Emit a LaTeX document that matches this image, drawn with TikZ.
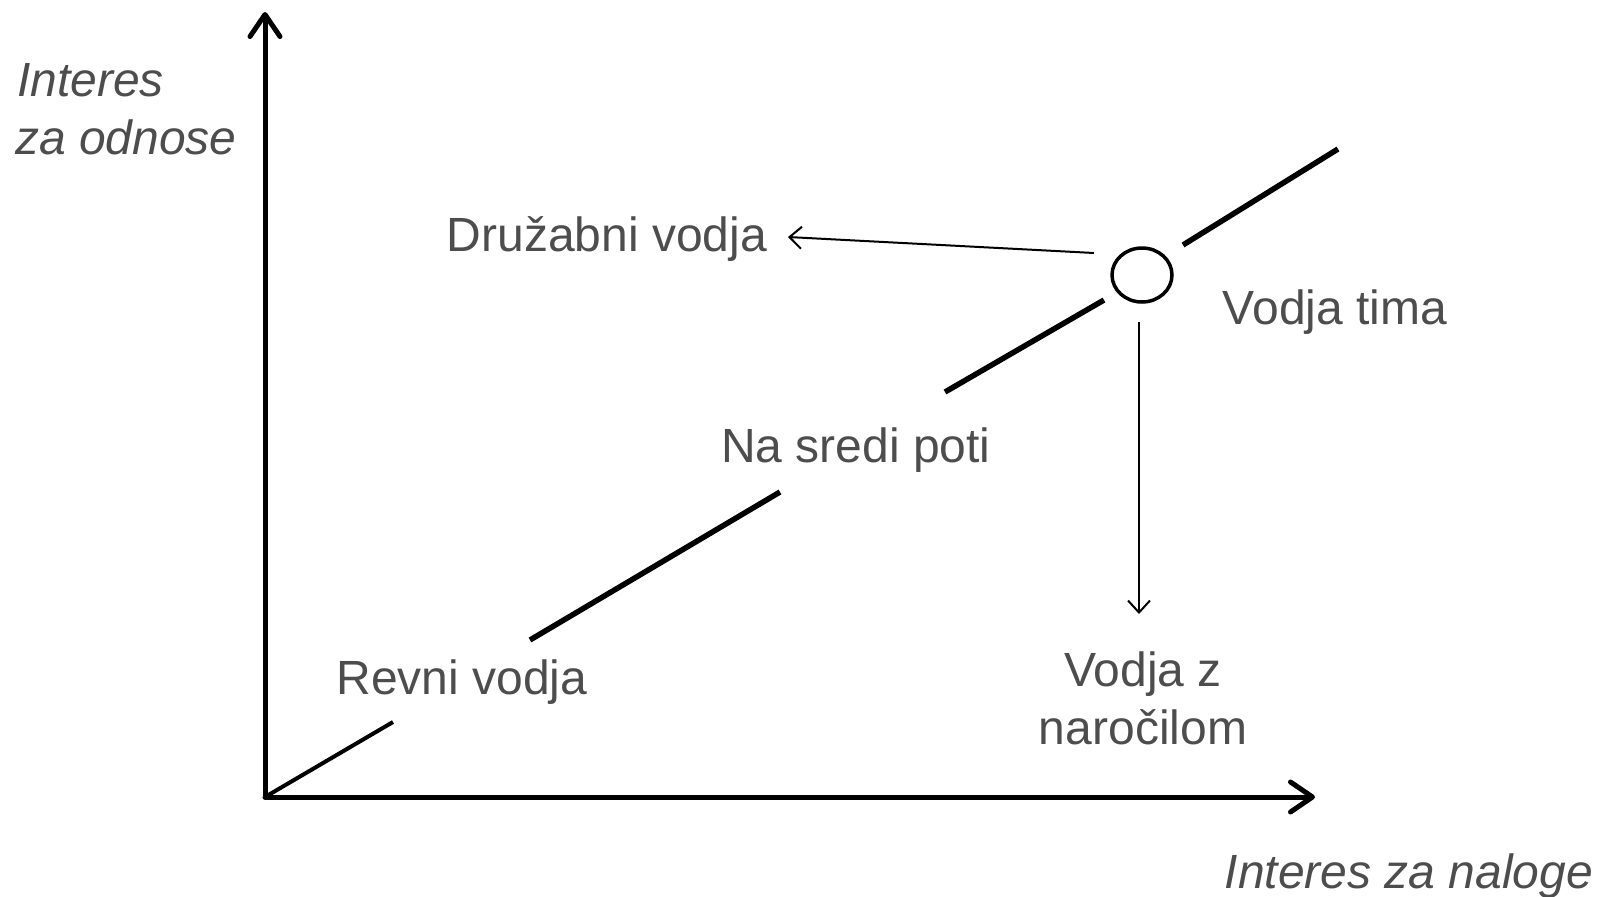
\documentclass[tikz,border=0pt]{standalone}
\usepackage{fontspec}
\setmainfont{Liberation Sans}
\usetikzlibrary{arrows.meta,shapes.geometric}
\definecolor{txt}{RGB}{77,77,77}
\begin{document}
\begin{tikzpicture}[x=1pt,y=-1pt,
  lbl/.style={inner sep=0pt,text=txt,font=\fontsize{48}{58}\selectfont,anchor=base},
  axis/.style={line width=5pt,-{Straight Barb[length=22pt,width=30pt,line cap=round,line join=round]}},
  seg/.style={line width=5.5pt},
  thin/.style={line width=2pt,-{Straight Barb[length=12pt,width=22pt]}}]
\useasboundingbox (0,0) rectangle (1599,897);
\coordinate (o) at (265,797);
\coordinate (ytop) at (265,12);
\coordinate (xend) at (1315,797);
\draw[axis,line cap=round] (o) -- (ytop);
\draw[axis,line cap=round] (o) -- (xend);
% diagonal segments
\coordinate (s1b) at (393,722);
\coordinate (s2a) at (530,640);
\coordinate (s2b) at (780,492);
\coordinate (s3a) at (945,392);
\coordinate (s3b) at (1104,300);
\coordinate (s4a) at (1183,245);
\coordinate (s4b) at (1338,149);
\draw[line width=4pt] (o) -- (s1b);
\draw[seg] (s2a) -- (s2b);
\draw[seg] (s3a) -- (s3b);
\draw[seg] (s4a) -- (s4b);
% circle
\node[draw,ellipse,line width=3.5pt,minimum width=60pt,minimum height=54pt,inner sep=0pt] (c) at (1142,275) {};
% labels
\node[lbl,anchor=base west,font=\fontsize{48}{58}\selectfont\itshape] (iy1) at (17,96) {Interes};
\node[lbl,anchor=base west,font=\fontsize{48}{58}\selectfont\itshape] (iy2) at (15,154) {za odnose};
\node[lbl] (dv) at (607,251) {Družabni vodja};
\node[lbl] (vt) at (1335,324) {Vodja tima};
\node[lbl] (ns) at (856,462) {Na sredi poti};
\node[lbl] (rv) at (462,694) {Revni vodja};
\node[lbl] (vz1) at (1143,686) {Vodja z};
\node[lbl] (vz2) at (1143,744) {naročilom};
\node[lbl,font=\fontsize{48}{58}\selectfont\itshape] (ix) at (1409,888) {Interes za naloge};
% arrows
\coordinate (a1s) at (1094,253);
\coordinate (a1e) at (788,237);
\draw[thin] (a1s) -- (a1e);
\coordinate (a2s) at (1139,322);
\coordinate (a2e) at (1139,614);
\draw[thin] (a2s) -- (a2e);
\end{tikzpicture}
\end{document}
